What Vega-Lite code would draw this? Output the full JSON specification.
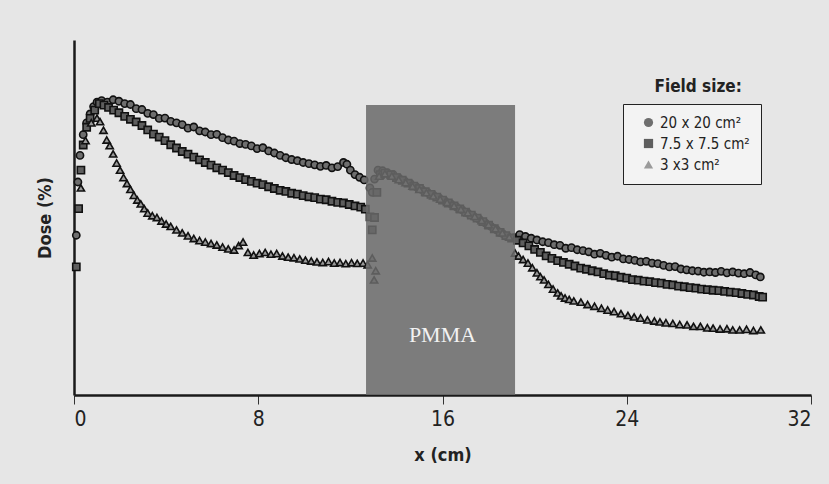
{
  "$schema": "https://vega.github.io/schema/vega-lite/v6.json",
  "autosize": {"type": "none"},
  "width": 737,
  "height": 355,
  "padding": {"left": 74, "top": 40, "right": 18, "bottom": 89},
  "background": "#e6e6e6",
  "config": {
    "view": {"stroke": null},
    "font": "'Liberation Sans Narrow', 'DejaVu Sans Condensed', 'Roboto Condensed', 'Liberation Sans', sans-serif",
    "axis": {"grid": false}
  },
  "datasets": {
    "pts": [
      {"fs":"20 x 20 cm²","x":0.1,"d":54},{"fs":"20 x 20 cm²","x":0.17,"d":72},{"fs":"20 x 20 cm²","x":0.26,"d":81},{"fs":"20 x 20 cm²","x":0.4,"d":88},{"fs":"20 x 20 cm²","x":0.55,"d":92},{"fs":"20 x 20 cm²","x":0.7,"d":95},{"fs":"20 x 20 cm²","x":0.85,"d":97.5},{"fs":"20 x 20 cm²","x":1.0,"d":99},{"fs":"20 x 20 cm²","x":1.2,"d":99.5},{"fs":"20 x 20 cm²","x":1.45,"d":99},{"fs":"20 x 20 cm²","x":1.7,"d":99.8},{"fs":"20 x 20 cm²","x":1.95,"d":99.3},{"fs":"20 x 20 cm²","x":2.2,"d":98.5},{"fs":"20 x 20 cm²","x":2.45,"d":98.2},{"fs":"20 x 20 cm²","x":2.7,"d":96.8},{"fs":"20 x 20 cm²","x":2.95,"d":96.5},{"fs":"20 x 20 cm²","x":3.2,"d":95.2},{"fs":"20 x 20 cm²","x":3.45,"d":94.8},{"fs":"20 x 20 cm²","x":3.7,"d":93.5},{"fs":"20 x 20 cm²","x":3.95,"d":93.6},{"fs":"20 x 20 cm²","x":4.2,"d":92.5},{"fs":"20 x 20 cm²","x":4.45,"d":92.0},{"fs":"20 x 20 cm²","x":4.7,"d":91.4},{"fs":"20 x 20 cm²","x":4.95,"d":90.2},{"fs":"20 x 20 cm²","x":5.2,"d":90.6},{"fs":"20 x 20 cm²","x":5.45,"d":89.3},{"fs":"20 x 20 cm²","x":5.7,"d":88.9},{"fs":"20 x 20 cm²","x":5.95,"d":88.0},{"fs":"20 x 20 cm²","x":6.2,"d":88.1},{"fs":"20 x 20 cm²","x":6.45,"d":87.0},{"fs":"20 x 20 cm²","x":6.7,"d":86.2},{"fs":"20 x 20 cm²","x":6.95,"d":85.8},{"fs":"20 x 20 cm²","x":7.2,"d":85.0},{"fs":"20 x 20 cm²","x":7.45,"d":84.7},{"fs":"20 x 20 cm²","x":7.7,"d":84.2},{"fs":"20 x 20 cm²","x":7.95,"d":83.3},{"fs":"20 x 20 cm²","x":8.2,"d":83.6},{"fs":"20 x 20 cm²","x":8.45,"d":82.5},{"fs":"20 x 20 cm²","x":8.7,"d":81.8},{"fs":"20 x 20 cm²","x":8.95,"d":81.0},{"fs":"20 x 20 cm²","x":9.2,"d":80.2},{"fs":"20 x 20 cm²","x":9.45,"d":79.6},{"fs":"20 x 20 cm²","x":9.7,"d":79.2},{"fs":"20 x 20 cm²","x":9.95,"d":78.6},{"fs":"20 x 20 cm²","x":10.2,"d":78.2},{"fs":"20 x 20 cm²","x":10.45,"d":77.8},{"fs":"20 x 20 cm²","x":10.7,"d":77.3},{"fs":"20 x 20 cm²","x":10.95,"d":77.6},{"fs":"20 x 20 cm²","x":11.2,"d":76.8},{"fs":"20 x 20 cm²","x":11.45,"d":77.2},{"fs":"20 x 20 cm²","x":11.7,"d":78.6},{"fs":"20 x 20 cm²","x":11.85,"d":78.0},{"fs":"20 x 20 cm²","x":12.0,"d":76.0},{"fs":"20 x 20 cm²","x":12.2,"d":74.5},{"fs":"20 x 20 cm²","x":12.4,"d":73.6},{"fs":"20 x 20 cm²","x":12.6,"d":72.7},{"fs":"20 x 20 cm²","x":12.85,"d":70.0},{"fs":"20 x 20 cm²","x":12.95,"d":68.5},{"fs":"20 x 20 cm²","x":13.05,"d":73.0},{"fs":"20 x 20 cm²","x":13.2,"d":76.0},{"fs":"20 x 20 cm²","x":13.4,"d":75.8},{"fs":"20 x 20 cm²","x":13.6,"d":75.2},{"fs":"20 x 20 cm²","x":13.85,"d":74.6},{"fs":"20 x 20 cm²","x":14.1,"d":73.4},{"fs":"20 x 20 cm²","x":14.35,"d":72.4},{"fs":"20 x 20 cm²","x":14.6,"d":71.5},{"fs":"20 x 20 cm²","x":14.85,"d":70.4},{"fs":"20 x 20 cm²","x":15.1,"d":69.4},{"fs":"20 x 20 cm²","x":15.35,"d":68.5},{"fs":"20 x 20 cm²","x":15.6,"d":67.6},{"fs":"20 x 20 cm²","x":15.85,"d":66.6},{"fs":"20 x 20 cm²","x":16.1,"d":65.6},{"fs":"20 x 20 cm²","x":16.35,"d":64.7},{"fs":"20 x 20 cm²","x":16.6,"d":63.6},{"fs":"20 x 20 cm²","x":16.85,"d":62.6},{"fs":"20 x 20 cm²","x":17.1,"d":61.5},{"fs":"20 x 20 cm²","x":17.35,"d":60.4},{"fs":"20 x 20 cm²","x":17.6,"d":59.4},{"fs":"20 x 20 cm²","x":17.85,"d":58.2},{"fs":"20 x 20 cm²","x":18.1,"d":57.0},{"fs":"20 x 20 cm²","x":18.35,"d":55.8},{"fs":"20 x 20 cm²","x":18.6,"d":54.6},{"fs":"20 x 20 cm²","x":18.85,"d":53.5},{"fs":"20 x 20 cm²","x":19.1,"d":53.2},{"fs":"20 x 20 cm²","x":19.35,"d":54.2},{"fs":"20 x 20 cm²","x":19.6,"d":53.6},{"fs":"20 x 20 cm²","x":19.85,"d":53.0},{"fs":"20 x 20 cm²","x":20.1,"d":52.4},{"fs":"20 x 20 cm²","x":20.35,"d":51.8},{"fs":"20 x 20 cm²","x":20.6,"d":51.5},{"fs":"20 x 20 cm²","x":20.85,"d":50.8},{"fs":"20 x 20 cm²","x":21.1,"d":50.6},{"fs":"20 x 20 cm²","x":21.35,"d":49.6},{"fs":"20 x 20 cm²","x":21.6,"d":49.8},{"fs":"20 x 20 cm²","x":21.85,"d":49.1},{"fs":"20 x 20 cm²","x":22.1,"d":48.8},{"fs":"20 x 20 cm²","x":22.35,"d":48.4},{"fs":"20 x 20 cm²","x":22.6,"d":47.6},{"fs":"20 x 20 cm²","x":22.85,"d":47.9},{"fs":"20 x 20 cm²","x":23.1,"d":47.2},{"fs":"20 x 20 cm²","x":23.35,"d":46.6},{"fs":"20 x 20 cm²","x":23.6,"d":46.9},{"fs":"20 x 20 cm²","x":23.85,"d":46.0},{"fs":"20 x 20 cm²","x":24.1,"d":45.8},{"fs":"20 x 20 cm²","x":24.35,"d":45.5},{"fs":"20 x 20 cm²","x":24.6,"d":45.0},{"fs":"20 x 20 cm²","x":24.85,"d":45.2},{"fs":"20 x 20 cm²","x":25.1,"d":44.6},{"fs":"20 x 20 cm²","x":25.35,"d":44.4},{"fs":"20 x 20 cm²","x":25.6,"d":43.8},{"fs":"20 x 20 cm²","x":25.85,"d":43.3},{"fs":"20 x 20 cm²","x":26.1,"d":43.4},{"fs":"20 x 20 cm²","x":26.35,"d":42.6},{"fs":"20 x 20 cm²","x":26.6,"d":42.3},{"fs":"20 x 20 cm²","x":26.85,"d":42.0},{"fs":"20 x 20 cm²","x":27.1,"d":41.9},{"fs":"20 x 20 cm²","x":27.35,"d":41.5},{"fs":"20 x 20 cm²","x":27.6,"d":41.6},{"fs":"20 x 20 cm²","x":27.85,"d":41.4},{"fs":"20 x 20 cm²","x":28.1,"d":41.8},{"fs":"20 x 20 cm²","x":28.35,"d":41.3},{"fs":"20 x 20 cm²","x":28.6,"d":41.6},{"fs":"20 x 20 cm²","x":28.85,"d":41.2},{"fs":"20 x 20 cm²","x":29.1,"d":41.0},{"fs":"20 x 20 cm²","x":29.35,"d":41.4},{"fs":"20 x 20 cm²","x":29.6,"d":40.6},{"fs":"20 x 20 cm²","x":29.8,"d":39.9},

      {"fs":"7.5 x 7.5 cm²","x":0.1,"d":43.3},{"fs":"7.5 x 7.5 cm²","x":0.2,"d":63},{"fs":"7.5 x 7.5 cm²","x":0.3,"d":76},{"fs":"7.5 x 7.5 cm²","x":0.4,"d":84.5},{"fs":"7.5 x 7.5 cm²","x":0.55,"d":90.5},{"fs":"7.5 x 7.5 cm²","x":0.7,"d":93.5},{"fs":"7.5 x 7.5 cm²","x":0.9,"d":96.3},{"fs":"7.5 x 7.5 cm²","x":1.1,"d":98.5},{"fs":"7.5 x 7.5 cm²","x":1.3,"d":98.0},{"fs":"7.5 x 7.5 cm²","x":1.5,"d":97.2},{"fs":"7.5 x 7.5 cm²","x":1.72,"d":96.3},{"fs":"7.5 x 7.5 cm²","x":1.95,"d":95.4},{"fs":"7.5 x 7.5 cm²","x":2.2,"d":94.2},{"fs":"7.5 x 7.5 cm²","x":2.45,"d":93.2},{"fs":"7.5 x 7.5 cm²","x":2.7,"d":92.3},{"fs":"7.5 x 7.5 cm²","x":2.95,"d":91.1},{"fs":"7.5 x 7.5 cm²","x":3.2,"d":89.6},{"fs":"7.5 x 7.5 cm²","x":3.45,"d":88.2},{"fs":"7.5 x 7.5 cm²","x":3.7,"d":87.2},{"fs":"7.5 x 7.5 cm²","x":3.95,"d":86.0},{"fs":"7.5 x 7.5 cm²","x":4.2,"d":84.6},{"fs":"7.5 x 7.5 cm²","x":4.45,"d":83.5},{"fs":"7.5 x 7.5 cm²","x":4.7,"d":82.3},{"fs":"7.5 x 7.5 cm²","x":4.95,"d":81.4},{"fs":"7.5 x 7.5 cm²","x":5.2,"d":80.4},{"fs":"7.5 x 7.5 cm²","x":5.45,"d":79.5},{"fs":"7.5 x 7.5 cm²","x":5.7,"d":78.6},{"fs":"7.5 x 7.5 cm²","x":5.95,"d":77.7},{"fs":"7.5 x 7.5 cm²","x":6.2,"d":76.8},{"fs":"7.5 x 7.5 cm²","x":6.45,"d":76.0},{"fs":"7.5 x 7.5 cm²","x":6.7,"d":75.2},{"fs":"7.5 x 7.5 cm²","x":6.95,"d":74.2},{"fs":"7.5 x 7.5 cm²","x":7.2,"d":73.5},{"fs":"7.5 x 7.5 cm²","x":7.45,"d":72.8},{"fs":"7.5 x 7.5 cm²","x":7.7,"d":72.2},{"fs":"7.5 x 7.5 cm²","x":7.95,"d":71.6},{"fs":"7.5 x 7.5 cm²","x":8.2,"d":71.1},{"fs":"7.5 x 7.5 cm²","x":8.45,"d":70.4},{"fs":"7.5 x 7.5 cm²","x":8.7,"d":69.8},{"fs":"7.5 x 7.5 cm²","x":8.95,"d":69.2},{"fs":"7.5 x 7.5 cm²","x":9.2,"d":68.8},{"fs":"7.5 x 7.5 cm²","x":9.45,"d":68.2},{"fs":"7.5 x 7.5 cm²","x":9.7,"d":67.9},{"fs":"7.5 x 7.5 cm²","x":9.95,"d":67.4},{"fs":"7.5 x 7.5 cm²","x":10.2,"d":67.0},{"fs":"7.5 x 7.5 cm²","x":10.45,"d":66.7},{"fs":"7.5 x 7.5 cm²","x":10.7,"d":66.2},{"fs":"7.5 x 7.5 cm²","x":10.95,"d":66.0},{"fs":"7.5 x 7.5 cm²","x":11.2,"d":65.5},{"fs":"7.5 x 7.5 cm²","x":11.45,"d":65.1},{"fs":"7.5 x 7.5 cm²","x":11.7,"d":64.9},{"fs":"7.5 x 7.5 cm²","x":11.95,"d":64.4},{"fs":"7.5 x 7.5 cm²","x":12.2,"d":63.9},{"fs":"7.5 x 7.5 cm²","x":12.45,"d":63.5},{"fs":"7.5 x 7.5 cm²","x":12.65,"d":62.8},{"fs":"7.5 x 7.5 cm²","x":12.85,"d":60.2},{"fs":"7.5 x 7.5 cm²","x":12.95,"d":55.8},{"fs":"7.5 x 7.5 cm²","x":13.05,"d":60.0},{"fs":"7.5 x 7.5 cm²","x":13.15,"d":68.5},{"fs":"7.5 x 7.5 cm²","x":13.3,"d":74.5},{"fs":"7.5 x 7.5 cm²","x":13.5,"d":75.0},{"fs":"7.5 x 7.5 cm²","x":13.75,"d":74.4},{"fs":"7.5 x 7.5 cm²","x":14.0,"d":73.5},{"fs":"7.5 x 7.5 cm²","x":14.25,"d":72.6},{"fs":"7.5 x 7.5 cm²","x":14.5,"d":71.6},{"fs":"7.5 x 7.5 cm²","x":14.75,"d":70.6},{"fs":"7.5 x 7.5 cm²","x":15.0,"d":69.8},{"fs":"7.5 x 7.5 cm²","x":15.25,"d":68.7},{"fs":"7.5 x 7.5 cm²","x":15.5,"d":67.8},{"fs":"7.5 x 7.5 cm²","x":15.75,"d":66.9},{"fs":"7.5 x 7.5 cm²","x":16.0,"d":65.9},{"fs":"7.5 x 7.5 cm²","x":16.25,"d":64.9},{"fs":"7.5 x 7.5 cm²","x":16.5,"d":63.9},{"fs":"7.5 x 7.5 cm²","x":16.75,"d":62.9},{"fs":"7.5 x 7.5 cm²","x":17.0,"d":61.8},{"fs":"7.5 x 7.5 cm²","x":17.25,"d":60.8},{"fs":"7.5 x 7.5 cm²","x":17.5,"d":59.8},{"fs":"7.5 x 7.5 cm²","x":17.75,"d":58.6},{"fs":"7.5 x 7.5 cm²","x":18.0,"d":57.4},{"fs":"7.5 x 7.5 cm²","x":18.25,"d":56.2},{"fs":"7.5 x 7.5 cm²","x":18.5,"d":55.0},{"fs":"7.5 x 7.5 cm²","x":18.75,"d":53.9},{"fs":"7.5 x 7.5 cm²","x":19.0,"d":53.0},{"fs":"7.5 x 7.5 cm²","x":19.25,"d":52.3},{"fs":"7.5 x 7.5 cm²","x":19.5,"d":51.4},{"fs":"7.5 x 7.5 cm²","x":19.75,"d":50.4},{"fs":"7.5 x 7.5 cm²","x":20.0,"d":49.2},{"fs":"7.5 x 7.5 cm²","x":20.25,"d":48.2},{"fs":"7.5 x 7.5 cm²","x":20.5,"d":47.0},{"fs":"7.5 x 7.5 cm²","x":20.75,"d":46.2},{"fs":"7.5 x 7.5 cm²","x":21.0,"d":45.4},{"fs":"7.5 x 7.5 cm²","x":21.25,"d":44.8},{"fs":"7.5 x 7.5 cm²","x":21.5,"d":44.2},{"fs":"7.5 x 7.5 cm²","x":21.75,"d":43.6},{"fs":"7.5 x 7.5 cm²","x":22.0,"d":42.9},{"fs":"7.5 x 7.5 cm²","x":22.25,"d":42.5},{"fs":"7.5 x 7.5 cm²","x":22.5,"d":42.0},{"fs":"7.5 x 7.5 cm²","x":22.75,"d":41.6},{"fs":"7.5 x 7.5 cm²","x":23.0,"d":41.0},{"fs":"7.5 x 7.5 cm²","x":23.25,"d":40.5},{"fs":"7.5 x 7.5 cm²","x":23.5,"d":40.3},{"fs":"7.5 x 7.5 cm²","x":23.75,"d":39.8},{"fs":"7.5 x 7.5 cm²","x":24.0,"d":39.5},{"fs":"7.5 x 7.5 cm²","x":24.25,"d":39.0},{"fs":"7.5 x 7.5 cm²","x":24.5,"d":38.8},{"fs":"7.5 x 7.5 cm²","x":24.75,"d":38.5},{"fs":"7.5 x 7.5 cm²","x":25.0,"d":38.3},{"fs":"7.5 x 7.5 cm²","x":25.25,"d":38.0},{"fs":"7.5 x 7.5 cm²","x":25.5,"d":37.8},{"fs":"7.5 x 7.5 cm²","x":25.75,"d":37.4},{"fs":"7.5 x 7.5 cm²","x":26.0,"d":37.2},{"fs":"7.5 x 7.5 cm²","x":26.25,"d":36.8},{"fs":"7.5 x 7.5 cm²","x":26.5,"d":36.6},{"fs":"7.5 x 7.5 cm²","x":26.75,"d":36.3},{"fs":"7.5 x 7.5 cm²","x":27.0,"d":36.1},{"fs":"7.5 x 7.5 cm²","x":27.25,"d":35.8},{"fs":"7.5 x 7.5 cm²","x":27.5,"d":35.6},{"fs":"7.5 x 7.5 cm²","x":27.75,"d":35.4},{"fs":"7.5 x 7.5 cm²","x":28.0,"d":35.3},{"fs":"7.5 x 7.5 cm²","x":28.25,"d":35.0},{"fs":"7.5 x 7.5 cm²","x":28.5,"d":34.8},{"fs":"7.5 x 7.5 cm²","x":28.75,"d":34.6},{"fs":"7.5 x 7.5 cm²","x":29.0,"d":34.3},{"fs":"7.5 x 7.5 cm²","x":29.25,"d":34.0},{"fs":"7.5 x 7.5 cm²","x":29.5,"d":33.8},{"fs":"7.5 x 7.5 cm²","x":29.75,"d":33.3},{"fs":"7.5 x 7.5 cm²","x":29.9,"d":33.1},

      {"fs":"3 x3 cm²","x":0.3,"d":70},{"fs":"3 x3 cm²","x":0.5,"d":86},{"fs":"3 x3 cm²","x":0.75,"d":92},{"fs":"3 x3 cm²","x":1.0,"d":93.6},{"fs":"3 x3 cm²","x":1.13,"d":92.4},{"fs":"3 x3 cm²","x":1.28,"d":89.5},{"fs":"3 x3 cm²","x":1.42,"d":86.2},{"fs":"3 x3 cm²","x":1.55,"d":84.3},{"fs":"3 x3 cm²","x":1.7,"d":81.5},{"fs":"3 x3 cm²","x":1.85,"d":78.4},{"fs":"3 x3 cm²","x":2.0,"d":76.0},{"fs":"3 x3 cm²","x":2.15,"d":73.5},{"fs":"3 x3 cm²","x":2.3,"d":71.5},{"fs":"3 x3 cm²","x":2.45,"d":69.5},{"fs":"3 x3 cm²","x":2.6,"d":67.5},{"fs":"3 x3 cm²","x":2.75,"d":65.9},{"fs":"3 x3 cm²","x":2.9,"d":64.6},{"fs":"3 x3 cm²","x":3.05,"d":63.0},{"fs":"3 x3 cm²","x":3.2,"d":61.5},{"fs":"3 x3 cm²","x":3.4,"d":60.6},{"fs":"3 x3 cm²","x":3.6,"d":60.0},{"fs":"3 x3 cm²","x":3.8,"d":58.8},{"fs":"3 x3 cm²","x":4.0,"d":57.8},{"fs":"3 x3 cm²","x":4.2,"d":57.0},{"fs":"3 x3 cm²","x":4.45,"d":55.8},{"fs":"3 x3 cm²","x":4.7,"d":54.8},{"fs":"3 x3 cm²","x":4.95,"d":53.8},{"fs":"3 x3 cm²","x":5.2,"d":52.9},{"fs":"3 x3 cm²","x":5.45,"d":52.2},{"fs":"3 x3 cm²","x":5.7,"d":51.7},{"fs":"3 x3 cm²","x":5.95,"d":51.2},{"fs":"3 x3 cm²","x":6.2,"d":50.7},{"fs":"3 x3 cm²","x":6.45,"d":50.0},{"fs":"3 x3 cm²","x":6.7,"d":49.4},{"fs":"3 x3 cm²","x":6.95,"d":49.0},{"fs":"3 x3 cm²","x":7.15,"d":50.5},{"fs":"3 x3 cm²","x":7.34,"d":51.7},{"fs":"3 x3 cm²","x":7.55,"d":48.2},{"fs":"3 x3 cm²","x":7.8,"d":47.3},{"fs":"3 x3 cm²","x":8.05,"d":47.8},{"fs":"3 x3 cm²","x":8.3,"d":48.2},{"fs":"3 x3 cm²","x":8.55,"d":47.6},{"fs":"3 x3 cm²","x":8.8,"d":47.8},{"fs":"3 x3 cm²","x":9.05,"d":47.0},{"fs":"3 x3 cm²","x":9.3,"d":46.6},{"fs":"3 x3 cm²","x":9.55,"d":46.4},{"fs":"3 x3 cm²","x":9.8,"d":46.0},{"fs":"3 x3 cm²","x":10.05,"d":45.6},{"fs":"3 x3 cm²","x":10.3,"d":45.3},{"fs":"3 x3 cm²","x":10.55,"d":45.0},{"fs":"3 x3 cm²","x":10.8,"d":44.8},{"fs":"3 x3 cm²","x":11.05,"d":45.1},{"fs":"3 x3 cm²","x":11.3,"d":44.6},{"fs":"3 x3 cm²","x":11.55,"d":44.8},{"fs":"3 x3 cm²","x":11.8,"d":44.4},{"fs":"3 x3 cm²","x":12.05,"d":44.7},{"fs":"3 x3 cm²","x":12.3,"d":44.5},{"fs":"3 x3 cm²","x":12.55,"d":44.6},{"fs":"3 x3 cm²","x":12.75,"d":44.0},{"fs":"3 x3 cm²","x":12.95,"d":46.3},{"fs":"3 x3 cm²","x":13.03,"d":38.9},{"fs":"3 x3 cm²","x":13.1,"d":42.0},{"fs":"3 x3 cm²","x":13.25,"d":74.0},{"fs":"3 x3 cm²","x":13.5,"d":74.8},{"fs":"3 x3 cm²","x":13.8,"d":74.0},{"fs":"3 x3 cm²","x":14.1,"d":72.8},{"fs":"3 x3 cm²","x":14.4,"d":71.8},{"fs":"3 x3 cm²","x":14.7,"d":70.6},{"fs":"3 x3 cm²","x":15.0,"d":69.5},{"fs":"3 x3 cm²","x":15.3,"d":68.4},{"fs":"3 x3 cm²","x":15.6,"d":67.3},{"fs":"3 x3 cm²","x":15.9,"d":66.2},{"fs":"3 x3 cm²","x":16.2,"d":65.1},{"fs":"3 x3 cm²","x":16.5,"d":64.0},{"fs":"3 x3 cm²","x":16.8,"d":62.8},{"fs":"3 x3 cm²","x":17.1,"d":61.6},{"fs":"3 x3 cm²","x":17.4,"d":60.4},{"fs":"3 x3 cm²","x":17.7,"d":59.0},{"fs":"3 x3 cm²","x":18.0,"d":57.6},{"fs":"3 x3 cm²","x":18.3,"d":56.2},{"fs":"3 x3 cm²","x":18.6,"d":54.8},{"fs":"3 x3 cm²","x":18.9,"d":53.4},{"fs":"3 x3 cm²","x":19.15,"d":48.0},{"fs":"3 x3 cm²","x":19.3,"d":47.0},{"fs":"3 x3 cm²","x":19.5,"d":45.8},{"fs":"3 x3 cm²","x":19.71,"d":44.6},{"fs":"3 x3 cm²","x":19.9,"d":43.0},{"fs":"3 x3 cm²","x":20.1,"d":41.3},{"fs":"3 x3 cm²","x":20.25,"d":40.0},{"fs":"3 x3 cm²","x":20.41,"d":38.9},{"fs":"3 x3 cm²","x":20.6,"d":37.4},{"fs":"3 x3 cm²","x":20.8,"d":35.8},{"fs":"3 x3 cm²","x":21.0,"d":34.5},{"fs":"3 x3 cm²","x":21.15,"d":33.5},{"fs":"3 x3 cm²","x":21.32,"d":32.8},{"fs":"3 x3 cm²","x":21.5,"d":32.3},{"fs":"3 x3 cm²","x":21.7,"d":31.8},{"fs":"3 x3 cm²","x":22.01,"d":31.4},{"fs":"3 x3 cm²","x":22.3,"d":30.6},{"fs":"3 x3 cm²","x":22.6,"d":30.0},{"fs":"3 x3 cm²","x":22.9,"d":29.3},{"fs":"3 x3 cm²","x":23.17,"d":28.7},{"fs":"3 x3 cm²","x":23.45,"d":28.2},{"fs":"3 x3 cm²","x":23.75,"d":27.5},{"fs":"3 x3 cm²","x":24.05,"d":26.9},{"fs":"3 x3 cm²","x":24.32,"d":26.4},{"fs":"3 x3 cm²","x":24.6,"d":26.0},{"fs":"3 x3 cm²","x":24.9,"d":25.4},{"fs":"3 x3 cm²","x":25.2,"d":25.0},{"fs":"3 x3 cm²","x":25.44,"d":24.7},{"fs":"3 x3 cm²","x":25.7,"d":24.4},{"fs":"3 x3 cm²","x":26.0,"d":24.2},{"fs":"3 x3 cm²","x":26.3,"d":23.8},{"fs":"3 x3 cm²","x":26.62,"d":23.7},{"fs":"3 x3 cm²","x":26.9,"d":23.2},{"fs":"3 x3 cm²","x":27.2,"d":23.2},{"fs":"3 x3 cm²","x":27.5,"d":22.7},{"fs":"3 x3 cm²","x":27.75,"d":22.6},{"fs":"3 x3 cm²","x":28.05,"d":22.3},{"fs":"3 x3 cm²","x":28.35,"d":22.4},{"fs":"3 x3 cm²","x":28.6,"d":22.0},{"fs":"3 x3 cm²","x":28.9,"d":22.0},{"fs":"3 x3 cm²","x":29.2,"d":22.2},{"fs":"3 x3 cm²","x":29.5,"d":21.8},{"fs":"3 x3 cm²","x":29.82,"d":22.0}
    ]
  },
  "layer": [
    {
      "data": {"name": "pts"},
      "mark": {"type": "point", "filled": true, "size": 52, "stroke": "#111111", "strokeWidth": 1.6, "opacity": 1},
      "encoding": {
        "x": {"field": "x", "type": "quantitative",
              "scale": {"domain": [0, 32], "nice": false, "zero": false},
              "axis": {"values": [0, 8, 16, 24, 32], "title": "x (cm)", "grid": false,
                       "domainColor": "#1a1a1a", "domainWidth": 2.5, "tickColor": "#333", "tickWidth": 1, "tickSize": 9,
                       "labelFont": "'Liberation Sans Narrow', 'DejaVu Sans Condensed', 'Roboto Condensed', 'Liberation Sans', sans-serif", "labelFontSize": 21, "labelColor": "#222", "labelPadding": 4,
                       "titleFont": "'Liberation Sans Narrow', 'DejaVu Sans Condensed', 'Roboto Condensed', 'Liberation Sans', sans-serif", "titleFontSize": 18, "titleFontWeight": "bold", "titleColor": "#222", "titlePadding": 17}},
        "y": {"field": "d", "type": "quantitative",
              "scale": {"domain": [0, 120], "nice": false},
              "axis": {"labels": false, "ticks": false, "grid": false, "title": "Dose (%)",
                       "domainColor": "#1a1a1a", "domainWidth": 2.5,
                       "titleFont": "'Liberation Sans Narrow', 'DejaVu Sans Condensed', 'Roboto Condensed', 'Liberation Sans', sans-serif", "titleFontSize": 18, "titleFontWeight": "bold", "titleColor": "#222", "titlePadding": 20}},
        "shape": {"field": "fs", "type": "nominal",
                  "scale": {"domain": ["20 x 20 cm²", "7.5 x 7.5 cm²", "3 x3 cm²"], "range": ["circle", "square", "triangle-up"]},
                  "legend": {"title": null, "orient": "none", "legendX": 549, "legendY": 64,
                             "strokeColor": "#222", "fillColor": "#f3f3f3", "padding": 11, "symbolOffset": 7,
                             "labelFont": "'Liberation Sans Narrow', 'DejaVu Sans Condensed', 'Roboto Condensed', 'Liberation Sans', sans-serif", "labelFontSize": 15, "labelColor": "#222", "rowPadding": 5,
                             "symbolSize": 85, "symbolStrokeColor": "#222", "symbolStrokeWidth": 1}},
        "fill": {"field": "fs", "type": "nominal",
                 "scale": {"domain": ["20 x 20 cm²", "7.5 x 7.5 cm²", "3 x3 cm²"], "range": ["#6e6e6e", "#5e5e5e", "#9a9a9a"]},
                 "legend": {"title": null, "orient": "none", "legendX": 549, "legendY": 64,
                             "strokeColor": "#222", "fillColor": "#f3f3f3", "padding": 11, "symbolOffset": 7,
                             "labelFont": "'Liberation Sans Narrow', 'DejaVu Sans Condensed', 'Roboto Condensed', 'Liberation Sans', sans-serif", "labelFontSize": 15, "labelColor": "#222", "rowPadding": 5,
                             "symbolSize": 85, "symbolStrokeColor": "#222", "symbolStrokeWidth": 1}}
      }
    },
    {
      "data": {"values": [{}]},
      "mark": {"type": "rect", "color": "#6a6a6a", "opacity": 0.86},
      "encoding": {
        "x": {"datum": 12.68, "type": "quantitative"},
        "x2": {"datum": 19.15},
        "y": {"datum": 0, "type": "quantitative"},
        "y2": {"datum": 98}
      }
    },
    {
      "data": {"values": [{}]},
      "mark": {"type": "text", "text": "PMMA", "font": "Liberation Serif", "fontSize": 22, "color": "#f2f2f2", "align": "center", "baseline": "middle"},
      "encoding": {
        "x": {"datum": 16.0, "type": "quantitative"},
        "y": {"datum": 20.3, "type": "quantitative"}
      }
    },
    {
      "data": {"values": [{}]},
      "mark": {"type": "text", "text": "Field size:", "font": "'Liberation Sans Narrow', 'DejaVu Sans Condensed', 'Roboto Condensed', 'Liberation Sans', sans-serif", "fontSize": 17, "fontWeight": "bold", "color": "#222", "align": "center", "baseline": "middle"},
      "encoding": {
        "x": {"datum": 27.1, "type": "quantitative"},
        "y": {"datum": 104.2, "type": "quantitative"}
      }
    }
  ]
}
